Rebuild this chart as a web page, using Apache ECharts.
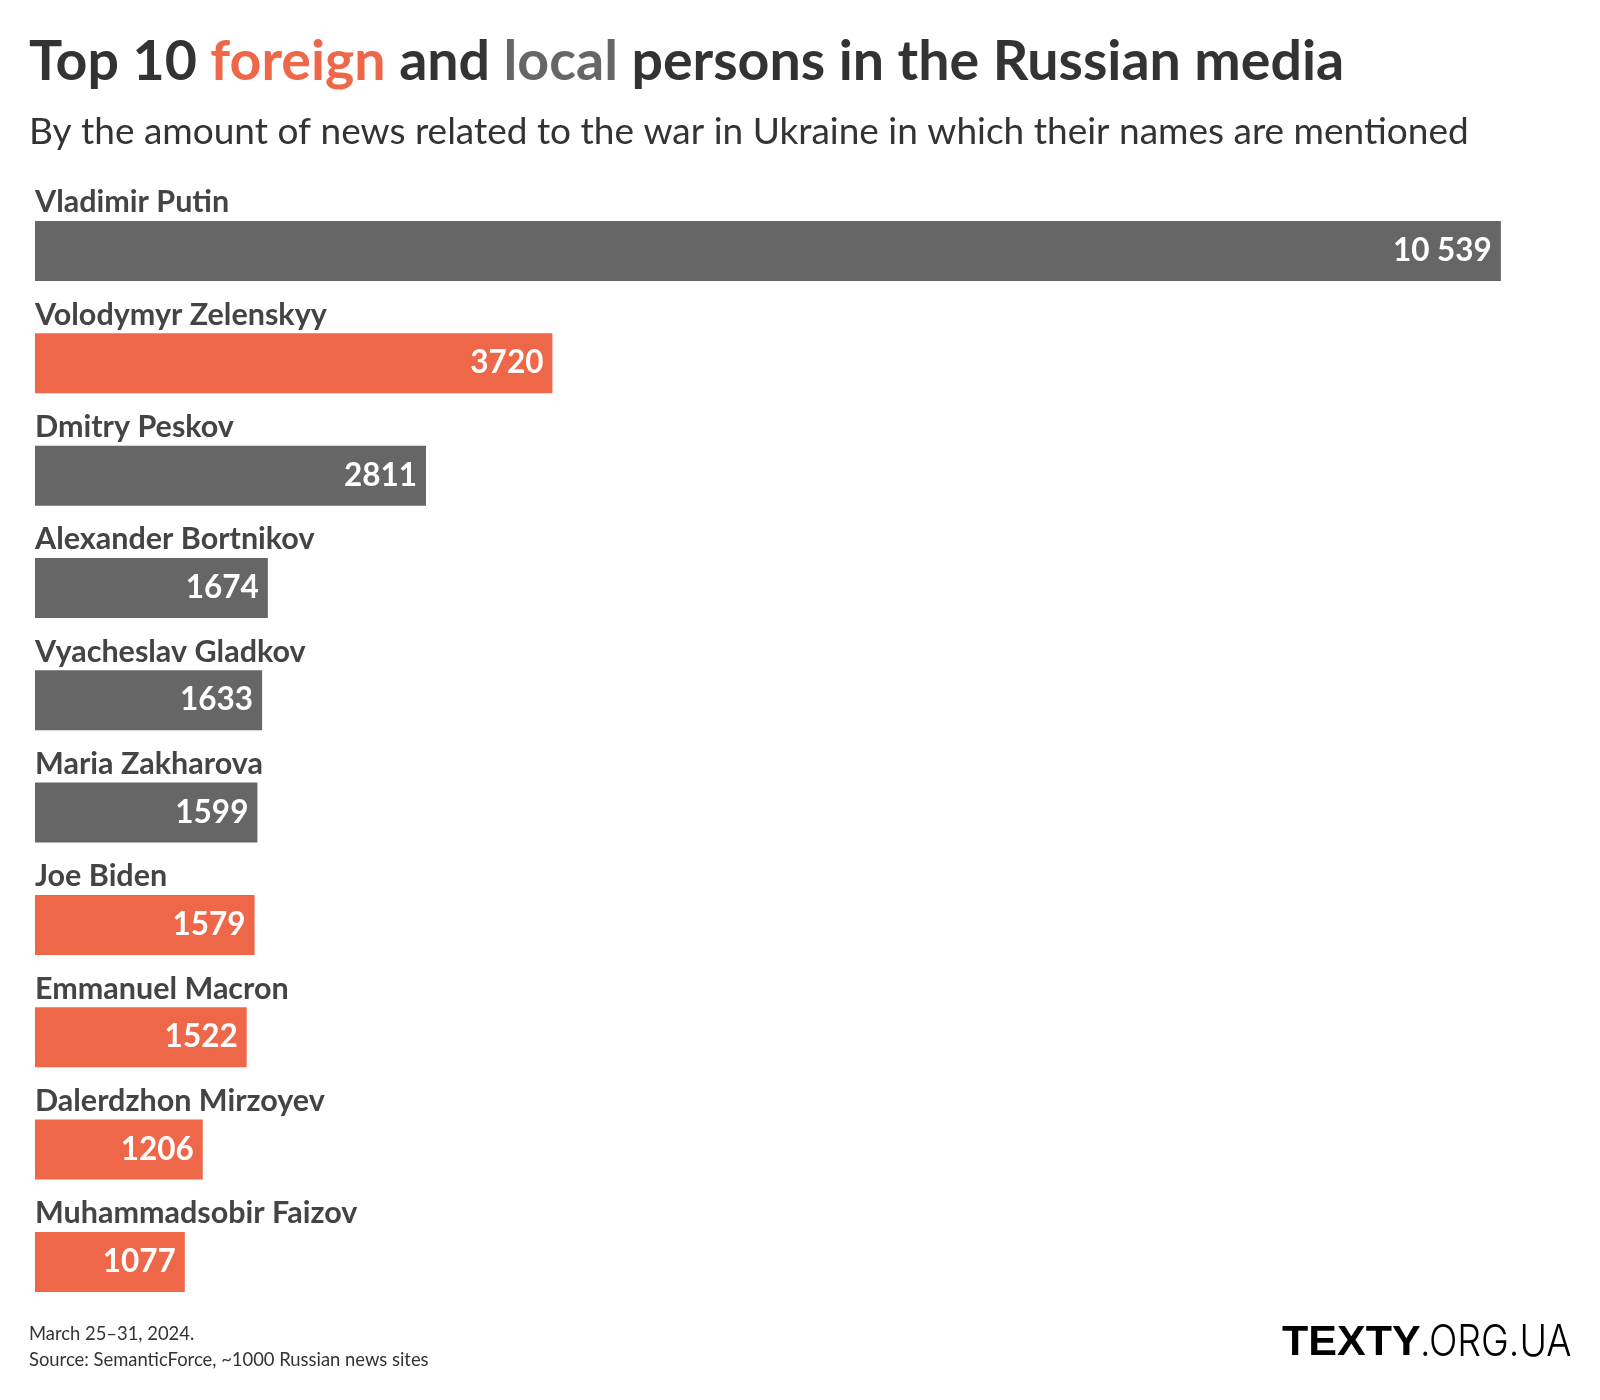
<!DOCTYPE html>
<html><head><meta charset="utf-8">
<script src="https://cdn.jsdelivr.net/npm/echarts@6/dist/echarts.min.js"></script>
<style>html,body{margin:0;padding:0;background:#fff}#c{width:1600px;height:1400px}</style>
</head><body><div id="c"></div>
<script>
const names = ["Vladimir Putin","Volodymyr Zelenskyy","Dmitry Peskov","Alexander Bortnikov","Vyacheslav Gladkov","Maria Zakharova","Joe Biden","Emmanuel Macron","Dalerdzhon Mirzoyev","Muhammadsobir Faizov"];
const mentions = [10539,3720,2811,1674,1633,1599,1579,1522,1206,1077];
const groups = ["local","foreign","local","local","local","local","foreign","foreign","foreign","foreign"];
const colors = {local:"#666666", foreign:"#EE6748"};
const FONT = "Lato";

function fmt(v){ const s = String(v); return v >= 10000 ? s.slice(0, s.length-3) + " " + s.slice(-3) : s; }

const chart = echarts.init(document.getElementById('c'), null, {renderer:'canvas'});
chart.setOption({
  backgroundColor:'#fff',
  animation:false,
  grid:{left:35,right:35,top:194.8,bottom:81.9,containLabel:false},
  xAxis:{type:'value',min:0,max:11000,show:false},
  yAxis:{type:'category',data:names,inverse:true,show:false},
  series:[
    {type:'bar',barWidth:60,
     data:mentions.map((v,i)=>({value:v,itemStyle:{color:colors[groups[i]]}})),
     label:{show:true,position:'insideRight',distance:9,color:'#fff',fontFamily:FONT,fontWeight:'bold',fontSize:31.5,
       formatter:p=>fmt(p.value)}},
    {type:'bar',barWidth:60,barGap:'-100%',silent:true,
     data:mentions,itemStyle:{color:'rgba(0,0,0,0)'},
     label:{show:true,position:[0,-3],align:'left',verticalAlign:'bottom',color:'#444444',fontFamily:FONT,fontWeight:'bold',fontSize:30.5,
       formatter:p=>p.name}}
  ],
  graphic:[
    {type:'text',left:29,top:34,style:{
      text:'{d|Top 10 }{f|foreign}{d| and }{l|local}{d| persons in the Russian media}',
      rich:{
        d:{fill:'#333333',fontFamily:FONT,fontWeight:'bold',fontSize:55.5},
        f:{fill:'#EE6748',fontFamily:FONT,fontWeight:'bold',fontSize:55.5},
        l:{fill:'#666666',fontFamily:FONT,fontWeight:'bold',fontSize:55.5}
      }}},
    {type:'text',left:29,top:114,style:{text:'By the amount of news related to the war in Ukraine in which their names are mentioned',
      fill:'#333333',fontFamily:FONT,fontSize:37}},
    {type:'text',left:29,top:1325,style:{text:'March 25–31, 2024.',fill:'#333333',fontFamily:FONT,fontSize:18.4}},
    {type:'text',left:29,top:1351,style:{text:'Source: SemanticForce, ~1000 Russian news sites',fill:'#333333',fontFamily:FONT,fontSize:18.4}},
    {type:'text',x:1282,y:1343,style:{text:'TEXTY',fill:'#000',fontFamily:'Liberation Sans',fontWeight:'bold',fontSize:43,verticalAlign:'middle',align:'left'}},
    {type:'text',x:1420,y:1343,scaleX:0.87,style:{text:'.ORG.UA',fill:'#000',fontFamily:'Inter',fontWeight:300,fontSize:43,verticalAlign:'middle',align:'left'}}
  ]
});
</script></body></html>
